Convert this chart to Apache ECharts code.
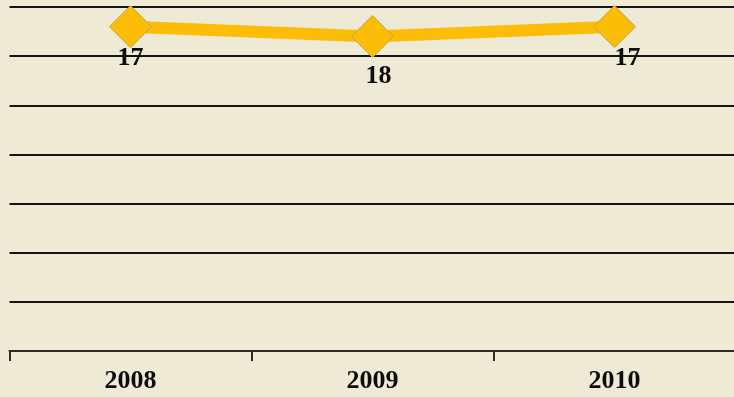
<!DOCTYPE html>
<html>
<head>
<meta charset="utf-8">
<script src="https://cdn.jsdelivr.net/npm/echarts@6/dist/echarts.min.js"></script>
<style>
html,body{margin:0;padding:0;background:#eeead6;overflow:hidden;width:734px;height:397px;}
#c{width:740px;height:397px;}
</style>
</head>
<body>
<div id="c"></div>
<script>
const categories = ['2008', '2009', '2010'];
const values = [17, 18, 17];
const yMin = 15, yMax = 50, yInterval = 5;
const labelOffsets = [[0, -2], [6, 6], [13, -2]];

const chart = echarts.init(document.getElementById('c'), null, {renderer: 'canvas'});
const font = '"Liberation Serif", "Times New Roman", serif';
chart.setOption({
  backgroundColor: '#eeead6',
  animation: false,
  grid: {left: 9.5, top: 7, width: 726, height: 344, containLabel: false},
  xAxis: {
    type: 'category',
    data: categories,
    boundaryGap: true,
    axisLine: {show: true, onZero: false, lineStyle: {color: '#2a2a2a', width: 2}},
    axisTick: {show: true, alignWithLabel: false, interval: 0, length: 10, lineStyle: {color: '#2a2a2a', width: 2}},
    axisLabel: {margin: 17, fontFamily: font, fontWeight: 'bold', fontSize: 26, color: '#0d0d0d'},
    splitLine: {show: false}
  },
  yAxis: {
    type: 'value',
    inverse: true,
    min: yMin, max: yMax, interval: yInterval,
    axisLine: {show: false},
    axisTick: {show: false},
    axisLabel: {show: false},
    splitLine: {show: true, lineStyle: {color: '#141414', width: 2.2}}
  },
  series: [{
    type: 'line',
    data: values.map((v, i) => ({value: v, label: {offset: labelOffsets[i]}})),
    symbol: 'diamond',
    symbolSize: 42,
    lineStyle: {color: '#fbbd08', width: 12},
    itemStyle: {color: '#fbbd08', borderColor: '#c9a43a', borderWidth: 1},
    label: {
      show: true,
      position: 'bottom',
      distance: -1,
      fontFamily: font,
      fontWeight: 'bold',
      fontSize: 26,
      lineHeight: 26,
      color: '#0d0d0d'
    },
    z: 3
  }]
});
</script>
</body>
</html>
